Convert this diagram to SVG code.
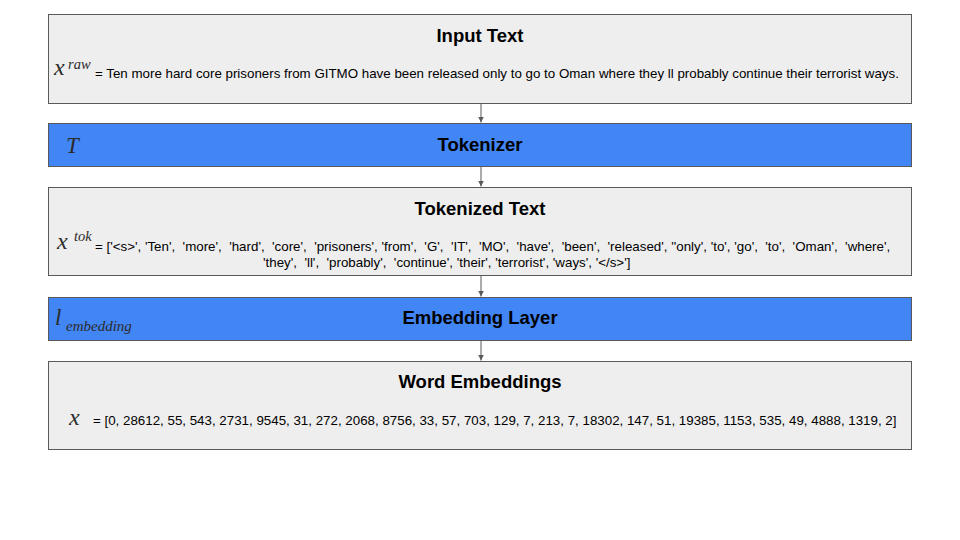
<svg xmlns="http://www.w3.org/2000/svg" width="960" height="540" viewBox="0 0 960 540">
  <style>
    .box { fill: #eeeeee; stroke: #595959; stroke-width: 1; }
    .blue { fill: #4285f4; stroke: #595959; stroke-width: 1; }
    .title { font-family: "Liberation Sans", Arial, sans-serif; font-size: 18.5px; font-weight: bold; fill: #000; text-anchor: middle; }
    .body { font-family: "Liberation Sans", Arial, sans-serif; font-size: 13.33px; fill: #000; }
    .math { font-family: "Liberation Serif", "Times New Roman", serif; font-style: italic; fill: #2b2b2b; }
    .edge { stroke: #595959; stroke-width: 1; fill: none; marker-end: url(#arrow); }
  </style>
  <defs>
    <marker id="arrow" viewBox="0 0 10 10" refX="10" refY="5" markerWidth="6" markerHeight="6" markerUnits="userSpaceOnUse" orient="auto">
      <path d="M0,0 L10,5 L0,10 z" fill="#595959"/>
    </marker>
  </defs>

  <rect width="960" height="540" fill="#ffffff"/>

  <!-- connectors -->
  <g id="connectors">
    <line class="edge" x1="481" y1="103.5" x2="481" y2="122.5"/>
    <line class="edge" x1="481" y1="166.5" x2="481" y2="186.5"/>
    <line class="edge" x1="481" y1="275.5" x2="481" y2="296.5"/>
    <line class="edge" x1="481" y1="340.5" x2="481" y2="360.5"/>
  </g>

  <!-- raw input -->
  <g id="input-text">
    <rect class="box" x="48.5" y="14.5" width="863" height="89"/>
    <text class="title" x="480" y="42">Input Text</text>
    <text class="math" x="54" y="75" font-size="24">x</text>
    <text class="math" x="68" y="69" font-size="14.5">raw</text>
    <text class="body" x="95" y="78">= Ten more hard core prisoners from GITMO have been released only to go to Oman where they ll probably continue their terrorist ways.</text>
  </g>

  <!-- tokenizer -->
  <g id="tokenizer">
    <rect class="blue" x="48.5" y="123.5" width="863" height="43"/>
    <text class="title" x="480" y="151">Tokenizer</text>
    <text class="math" x="66" y="153" font-size="23">T</text>
  </g>

  <!-- token list -->
  <g id="tokenized-text">
    <rect class="box" x="48.5" y="187.5" width="863" height="88"/>
    <text class="title" x="480" y="215">Tokenized Text</text>
    <text class="math" x="57" y="249" font-size="24">x</text>
    <text class="math" x="74" y="241" font-size="14.5">tok</text>
    <text class="body" x="95" y="251" xml:space="preserve">= ['&lt;s&gt;', 'Ten',  'more',  'hard',  'core',  'prisoners', 'from',  'G',  'IT',  'MO',  'have',  'been',  'released', ''only', 'to', 'go',  'to',  'Oman',  'where',</text>
    <text class="body" x="263" y="267" xml:space="preserve">'they',  'll',  'probably',  'continue', 'their', 'terrorist', 'ways', '&lt;/s&gt;']</text>
  </g>

  <!-- embedding layer -->
  <g id="embedding-layer">
    <rect class="blue" x="48.5" y="297.5" width="863" height="43"/>
    <text class="title" x="480" y="324">Embedding Layer</text>
    <text class="math" x="55" y="325" font-size="23">l</text>
    <text class="math" x="66" y="331" font-size="15">embedding</text>
  </g>

  <!-- ids -->
  <g id="word-embeddings">
    <rect class="box" x="48.5" y="361.5" width="863" height="88"/>
    <text class="title" x="480" y="388">Word Embeddings</text>
    <text class="math" x="69" y="425" font-size="24">x</text>
    <text class="body" x="93" y="425">= [0, 28612, 55, 543, 2731, 9545, 31, 272, 2068, 8756, 33, 57, 703, 129, 7, 213, 7, 18302, 147, 51, 19385, 1153, 535, 49, 4888, 1319, 2]</text>
  </g>
</svg>
